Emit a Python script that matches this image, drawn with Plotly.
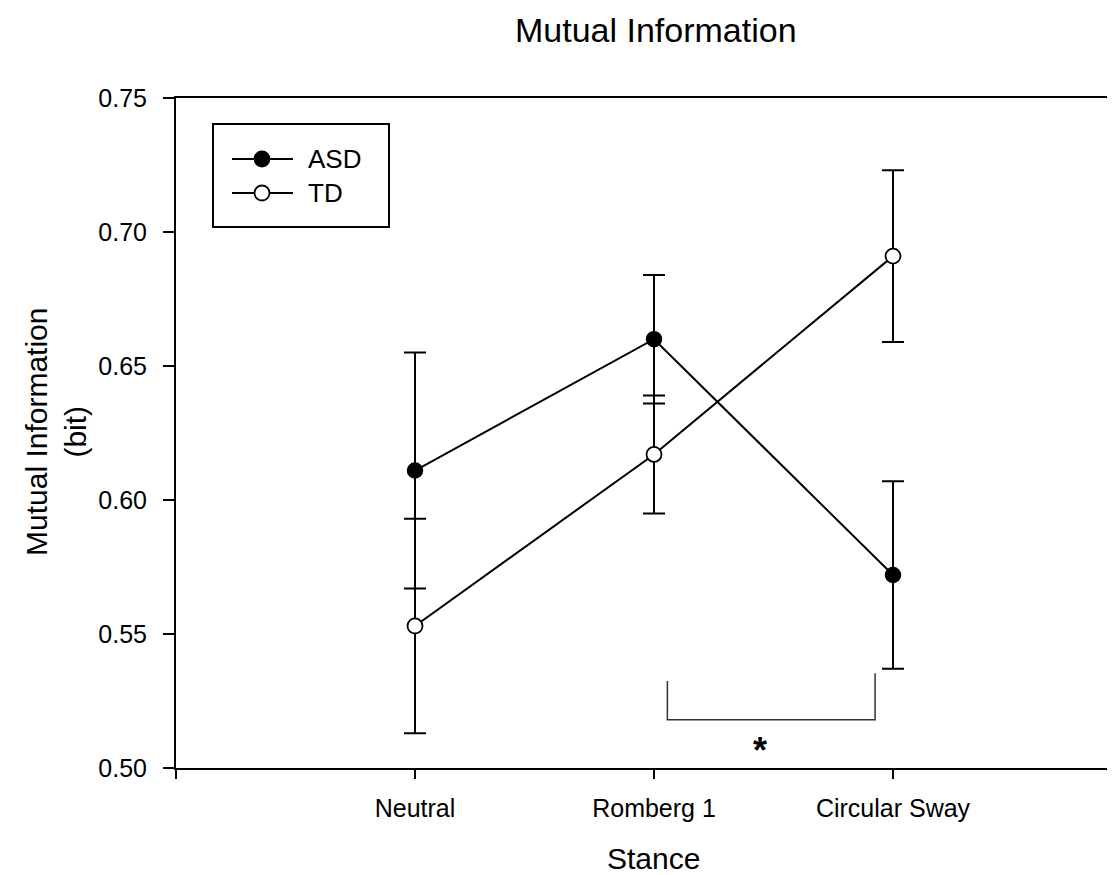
import plotly.graph_objects as go

# ---- data ----
stances = ["Neutral", "Romberg 1", "Circular Sway"]
x_pos = [1, 2, 3]
asd_mean = [0.611, 0.660, 0.572]
asd_err = [0.044, 0.024, 0.035]
td_mean = [0.553, 0.617, 0.691]
td_err = [0.040, 0.022, 0.032]
y_ticks = [0.50, 0.55, 0.60, 0.65, 0.70, 0.75]
sig_bracket_x = [2.056, 2.925]
sig_bracket_y = [0.5325, 0.518, 0.5354]
sig_star = (2.443, 0.5086)

FONT = "Liberation Sans, Arial, sans-serif"
W, H = 1115, 875
L, R, T, B = 168, 0, 90, 115
PW, PH = W - L - R, H - T - B


def px(x):
    return (x - L) / PW


def py(y):
    return (H - B - y) / PH


fig = go.Figure()

fig.add_trace(go.Scatter(
    x=x_pos, y=asd_mean, name="ASD", mode="lines+markers",
    line=dict(color="black", width=2),
    marker=dict(size=15, color="black", line=dict(color="black", width=1.5)),
    error_y=dict(type="data", array=asd_err, visible=True, color="black",
                 thickness=2, width=11),
    showlegend=False,
))
fig.add_trace(go.Scatter(
    x=x_pos, y=td_mean, name="TD", mode="lines+markers",
    line=dict(color="black", width=2),
    marker=dict(size=15, color="white", line=dict(color="black", width=1.8)),
    error_y=dict(type="data", array=td_err, visible=True, color="black",
                 thickness=2, width=11),
    showlegend=False,
))

shapes = []
# significance bracket
shapes.append(dict(
    type="path", xref="x", yref="y",
    path=(f"M {sig_bracket_x[0]},{sig_bracket_y[0]} L {sig_bracket_x[0]},{sig_bracket_y[1]} "
          f"L {sig_bracket_x[1]},{sig_bracket_y[1]} L {sig_bracket_x[1]},{sig_bracket_y[2]}"),
    line=dict(color="#333333", width=1.5),
))

# custom legend box
shapes.append(dict(type="rect", xref="paper", yref="paper",
                   x0=px(205), x1=px(381), y0=py(219), y1=py(116),
                   line=dict(color="black", width=2), fillcolor="white", layer="above"))
legend_items = [("ASD", 151, "black"), ("TD", 185, "white")]
annotations = []
for name, yy, fill in legend_items:
    shapes.append(dict(type="line", xref="paper", yref="paper",
                       x0=px(224), x1=px(285), y0=py(yy), y1=py(yy),
                       line=dict(color="black", width=2), layer="above"))
    shapes.append(dict(type="circle", xref="paper", yref="paper",
                       xsizemode="pixel", ysizemode="pixel",
                       xanchor=px(254), yanchor=py(yy),
                       x0=-7.5, x1=7.5, y0=-7.5, y1=7.5,
                       line=dict(color="black", width=1.8), fillcolor=fill, layer="above"))
    annotations.append(dict(xref="paper", yref="paper", x=px(298), y=py(yy),
                            xanchor="left", yanchor="middle", showarrow=False,
                            text=name, font=dict(family=FONT, size=26, color="black")))

# titles
annotations.append(dict(xref="paper", yref="paper", x=px(648), y=py(22),
                        xanchor="center", yanchor="middle", showarrow=False,
                        text="Mutual Information", font=dict(family=FONT, size=34, color="black")))
annotations.append(dict(xref="paper", yref="paper", x=px(48), y=py(424),
                        xanchor="center", yanchor="middle", showarrow=False, textangle=-90,
                        text="Mutual Information<br>(bit)",
                        font=dict(family=FONT, size=30, color="black")))
annotations.append(dict(xref="paper", yref="paper", x=px(645), y=py(850),
                        xanchor="center", yanchor="middle", showarrow=False,
                        text="Stance", font=dict(family=FONT, size=30, color="black")))
annotations.append(dict(xref="x", yref="y", x=sig_star[0], y=sig_star[1],
                        xanchor="center", yanchor="middle", showarrow=False, yshift=-6,
                        text="<b>*</b>", font=dict(family=FONT, size=36, color="black")))

fig.update_layout(
    width=W, height=H,
    margin=dict(l=L, r=R, t=T, b=B, pad=0),
    paper_bgcolor="white", plot_bgcolor="white",
    font=dict(family=FONT, size=24, color="black"),
    shapes=shapes, annotations=annotations,
    showlegend=False,
)
fig.update_xaxes(
    range=[0, (W - L) / 239.0], tickmode="array",
    tickvals=[0] + x_pos, ticktext=[""] + stances,
    showgrid=False, zeroline=False, showline=True, linecolor="black", linewidth=2,
    mirror=True, ticks="outside", ticklen=9, tickwidth=2, tickcolor="black",
    tickfont=dict(family=FONT, size=25, color="black"),
    ticklabelstandoff=8,
)
fig.update_yaxes(
    range=[0.50, 0.75], tickmode="array", tickvals=y_ticks,
    ticktext=[f"{v:.2f}" for v in y_ticks],
    showgrid=False, zeroline=False, showline=True, linecolor="black", linewidth=2,
    ticks="outside", ticklen=11, tickwidth=2, tickcolor="black",
    tickfont=dict(family=FONT, size=25, color="black"),
    ticklabelstandoff=11,
)

fig.write_html("out.html")
